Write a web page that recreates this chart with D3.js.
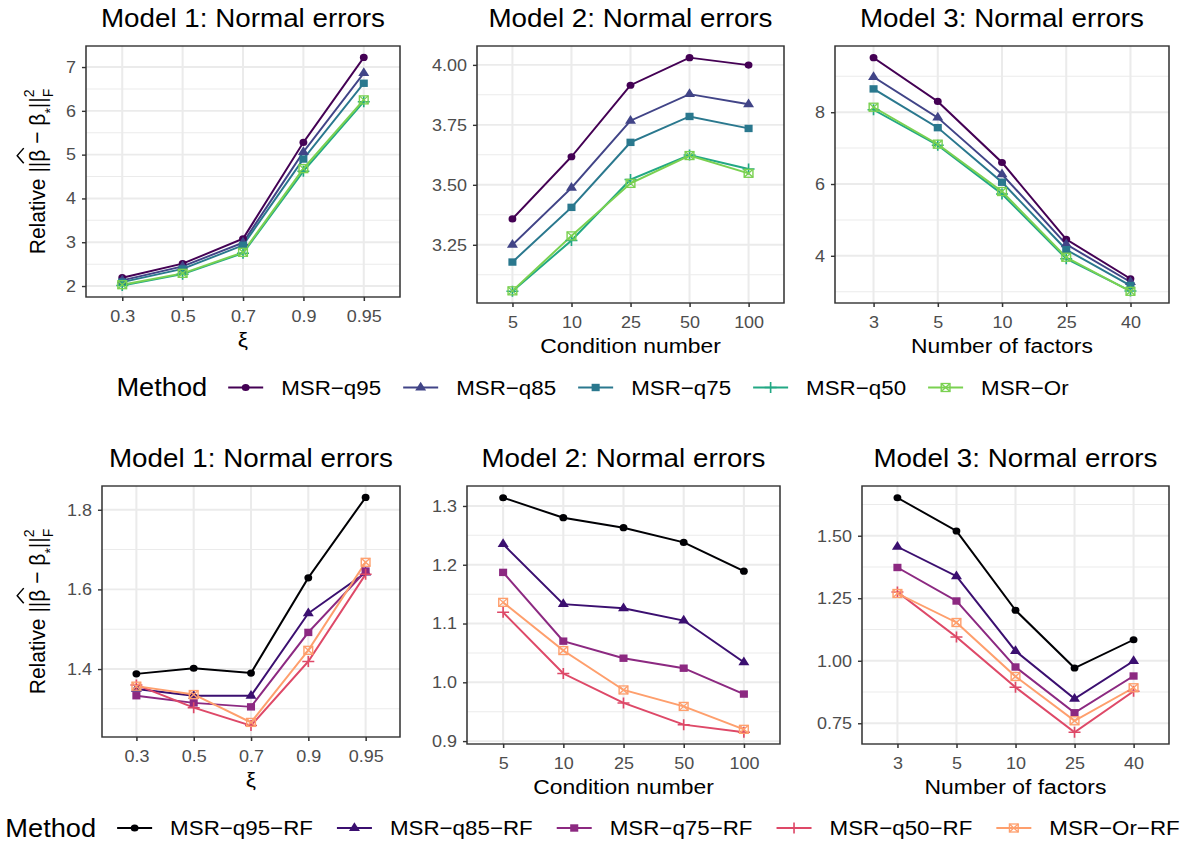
<!DOCTYPE html>
<html>
  <head>
    <meta charset="utf-8">
    <script src="https://d3js.org/d3.v7.min.js"></script>
    <title>Relative estimation error</title>
    <style>
      body { margin: 0; background: white; }
      text { font-family: "Liberation Sans", Arial, sans-serif; }
      .tick text { fill: #4d4d4d; }
    </style>
  </head>
  <body>
    <div id="chart"></div>
    <script>
      // categories on the x axes
      const xiLevels = ["0.3", "0.5", "0.7", "0.9", "0.95"];
      const condLevels = ["5", "10", "25", "50", "100"];
      const factorLevels = ["3", "5", "10", "25", "40"];

      const methodsTop = ["MSR\u2212q95", "MSR\u2212q85", "MSR\u2212q75", "MSR\u2212q50", "MSR\u2212Or"];
      const methodsBottom = ["MSR\u2212q95\u2212RF", "MSR\u2212q85\u2212RF", "MSR\u2212q75\u2212RF", "MSR\u2212q50\u2212RF", "MSR\u2212Or\u2212RF"];
      const coloursTop = ["#440154", "#414487", "#2A788E", "#22A884", "#7AD151"];
      const coloursBottom = ["#000004", "#3B0F70", "#8C2981", "#DE4968", "#FE9F6D"];
      const shapes = ["circle", "triangle", "square", "plus", "squarecross"];

      // rows: q95, q85, q75, q50, Or
      const top1 = [
        [2.19, 2.51, 3.08, 5.28, 7.22],
        [2.13, 2.45, 2.99, 5.06, 6.86],
        [2.09, 2.39, 2.93, 4.90, 6.63],
        [2.01, 2.27, 2.75, 4.62, 6.21],
        [2.03, 2.29, 2.77, 4.68, 6.25]
      ];
      const top2 = [
        [3.358, 3.617, 3.915, 4.030, 3.999],
        [3.250, 3.487, 3.767, 3.878, 3.836],
        [3.178, 3.406, 3.677, 3.785, 3.735],
        [3.056, 3.268, 3.522, 3.624, 3.566],
        [3.058, 3.287, 3.506, 3.622, 3.548]
      ];
      const top3 = [
        [9.52, 8.30, 6.60, 4.46, 3.36],
        [8.98, 7.85, 6.27, 4.32, 3.27],
        [8.65, 7.57, 6.05, 4.17, 3.17],
        [8.07, 7.08, 5.72, 3.92, 3.02],
        [8.14, 7.11, 5.79, 3.96, 3.01]
      ];
      const bot1 = [
        [1.388, 1.402, 1.390, 1.629, 1.831],
        [1.350, 1.333, 1.333, 1.540, 1.642],
        [1.333, 1.315, 1.305, 1.492, 1.646],
        [1.360, 1.303, 1.258, 1.419, 1.638],
        [1.357, 1.336, 1.266, 1.447, 1.668]
      ];
      const bot2 = [
        [1.314, 1.280, 1.263, 1.238, 1.189],
        [1.235, 1.133, 1.126, 1.105, 1.034],
        [1.187, 1.070, 1.041, 1.024, 0.980],
        [1.119, 1.015, 0.965, 0.928, 0.915],
        [1.136, 1.054, 0.987, 0.959, 0.920]
      ];
      const bot3 = [
        [1.652, 1.519, 1.202, 0.971, 1.084],
        [1.456, 1.338, 1.039, 0.848, 0.999],
        [1.373, 1.239, 0.975, 0.792, 0.939],
        [1.275, 1.095, 0.894, 0.714, 0.878],
        [1.269, 1.153, 0.937, 0.760, 0.892]
      ];

      // y tick values
      const ticksTop1 = [2, 3, 4, 5, 6, 7];
      const ticksTop2 = [3.25, 3.5, 3.75, 4.0];
      const ticksTop3 = [4, 6, 8];
      const ticksBot1 = [1.4, 1.6, 1.8];
      const ticksBot2 = [0.9, 1.0, 1.1, 1.2, 1.3];
      const ticksBot3 = [0.75, 1.0, 1.25, 1.5];

      const SX = 1.09; // the picture is a little wider than tall
      const X = v => v / SX;

      const svg = d3.select("#chart").append("svg")
        .attr("width", 1185).attr("height", 844);
      svg.append("rect").attr("width", 1185).attr("height", 844).attr("fill", "white");
      const root = svg.append("g").attr("transform", `scale(${SX},1)`);

      const panels = [
        { x0: 86, x1: 400, y0: 46, y1: 297, cats: xiLevels, data: top1, ticks: ticksTop1, fmt: "d", xt: "\u03be", yt: true, cols: coloursTop },
        { x0: 477, x1: 784, y0: 46, y1: 303, cats: condLevels, data: top2, ticks: ticksTop2, fmt: ".2f", xt: "Condition number", cols: coloursTop },
        { x0: 835, x1: 1169, y0: 46, y1: 303, cats: factorLevels, data: top3, ticks: ticksTop3, fmt: "d", xt: "Number of factors", cols: coloursTop },
        { x0: 102, x1: 400, y0: 486, y1: 737, cats: xiLevels, data: bot1, ticks: ticksBot1, fmt: ".1f", xt: "\u03be", yt: true, cols: coloursBottom },
        { x0: 467, x1: 780, y0: 486, y1: 744, cats: condLevels, data: bot2, ticks: ticksBot2, fmt: ".1f", xt: "Condition number", cols: coloursBottom },
        { x0: 862, x1: 1169, y0: 486, y1: 744, cats: factorLevels, data: bot3, ticks: ticksBot3, fmt: ".2f", xt: "Number of factors", cols: coloursBottom }
      ];
      const titles = ["Model 1: Normal errors", "Model 2: Normal errors", "Model 3: Normal errors"];

      function marker(g, shape, col, cx, cy) {
        const m = g.append("g").attr("transform", `translate(${cx},${cy})`);
        if (shape === "circle") {
          m.append("circle").attr("r", 3.6).attr("fill", col);
        } else if (shape === "triangle") {
          m.append("path").attr("d", d3.symbol(d3.symbolTriangle, 44)()).attr("fill", col);
        } else if (shape === "square") {
          m.append("rect").attr("x", -3.7).attr("y", -3.7).attr("width", 7.4).attr("height", 7.4).attr("fill", col);
        } else if (shape === "plus") {
          m.append("path").attr("d", "M-5.5,0H5.5M0,-5.5V5.5").attr("stroke", col).attr("stroke-width", 1.5);
        } else {
          m.append("rect").attr("x", -4).attr("y", -4).attr("width", 8).attr("height", 8)
            .attr("fill", "none").attr("stroke", col).attr("stroke-width", 1.3);
          m.append("path").attr("d", "M-4,-4L4,4M-4,4L4,-4").attr("stroke", col).attr("stroke-width", 1.3);
        }
      }

      function yTitle(cx, cy) {
        const g = root.append("g").attr("transform", `translate(${X(cx)},${cy}) rotate(-90)`);
        const inner = g.append("g");
        let x = 0;
        const put = (s, fs, dy) => {
          const el = inner.append("text").attr("x", x).attr("y", dy).attr("font-size", fs).text(s);
          return el.node().getComputedTextLength();
        };
        x += put("Relative ||", 21, 0);
        const bx = x;
        const bw = put("\u03b2", 21, 0);
        inner.append("path")
          .attr("d", `M${bx - 1.5},${-19.5}L${bx + bw / 2},${-25.5}L${bx + bw + 1.5},${-19.5}`)
          .attr("fill", "none").attr("stroke", "black").attr("stroke-width", 1.4);
        x += bw;
        x += put("\u00a0\u2212\u00a0\u03b2", 21, 0);
        x += put("*", 14, 9);
        x += put("||", 21, 0);
        const w2 = put("2", 14, -10);
        const wF = put("F", 14, 7);
        x += Math.max(w2, wF);
        inner.attr("transform", `translate(${-x / 2},0)`);
      }

      panels.forEach((p, k) => {
        const g = root.append("g");
        const all = p.data.flat();
        const ext = d3.extent(all);
        const pad = (ext[1] - ext[0]) * 0.05;
        const y = d3.scaleLinear().domain([ext[0] - pad, ext[1] + pad]).range([p.y1, p.y0]);
        const x = d3.scalePoint().domain(p.cats).range([X(p.x0), X(p.x1)]).padding(0.6);

        // minor gridlines halfway between the majors
        const step = p.ticks[1] - p.ticks[0];
        const minors = [p.ticks[0] - step / 2].concat(p.ticks.map(t => t + step / 2))
          .filter(v => v > y.domain()[0] && v < y.domain()[1]);
        g.selectAll(".minor").data(minors).join("line")
          .attr("x1", X(p.x0)).attr("x2", X(p.x1))
          .attr("y1", d => y(d)).attr("y2", d => y(d))
          .attr("stroke", "#ebebeb").attr("stroke-width", 1);
        g.selectAll(".majory").data(p.ticks).join("line")
          .attr("x1", X(p.x0)).attr("x2", X(p.x1))
          .attr("y1", d => y(d)).attr("y2", d => y(d))
          .attr("stroke", "#ebebeb").attr("stroke-width", 1.9);
        g.selectAll(".majorx").data(p.cats).join("line")
          .attr("x1", d => x(d)).attr("x2", d => x(d))
          .attr("y1", p.y0).attr("y2", p.y1)
          .attr("stroke", "#ebebeb").attr("stroke-width", 1.9);

        const line = d3.line().x((d, i) => x(p.cats[i])).y(d => y(d));
        p.data.forEach((s, j) => {
          g.append("path").attr("d", line(s)).attr("fill", "none")
            .attr("stroke", p.cols[j]).attr("stroke-width", 1.9);
        });
        p.data.forEach((s, j) => {
          s.forEach((v, i) => marker(g, shapes[j], p.cols[j], x(p.cats[i]), y(v)));
        });

        g.append("rect").attr("x", X(p.x0)).attr("y", p.y0)
          .attr("width", X(p.x1) - X(p.x0)).attr("height", p.y1 - p.y0)
          .attr("fill", "none").attr("stroke", "#333333").attr("stroke-width", 1.4);

        const ya = g.append("g").attr("transform", `translate(${X(p.x0)},0)`)
          .call(d3.axisLeft(y).tickValues(p.ticks).tickFormat(d3.format(p.fmt)).tickSize(3.7).tickPadding(5.5));
        const xa = g.append("g").attr("transform", `translate(0,${p.y1})`)
          .call(d3.axisBottom(x).tickSize(4).tickPadding(9));
        [ya, xa].forEach(a => {
          a.select(".domain").remove();
          a.selectAll(".tick line").attr("stroke", "#333333").attr("stroke-width", 1.4);
          a.selectAll(".tick text").attr("font-size", 16.5).attr("font-family", null);
        });
        xa.selectAll(".tick text").attr("dy", null).attr("y", 25);

        g.append("text").attr("x", (X(p.x0) + X(p.x1)) / 2).attr("y", p.y0 - 19)
          .attr("text-anchor", "middle").attr("font-size", 25.5).text(titles[k % 3]);
        g.append("text").attr("x", (X(p.x0) + X(p.x1)) / 2).attr("y", p.y1 + 50)
          .attr("text-anchor", "middle").attr("font-size", 21).text(p.xt);
        if (p.yt) yTitle(45, (p.y0 + p.y1) / 2);
      });

      function legend(labels, cols, cy, gap) {
        const g = root.append("g");
        let x = 0;
        const title = g.append("text").attr("x", 0).attr("y", cy + 9).attr("font-size", 25).text("Method");
        x += title.node().getComputedTextLength() + X(21);
        labels.forEach((lab, j) => {
          g.append("line").attr("x1", x).attr("x2", x + X(35)).attr("y1", cy).attr("y2", cy)
            .attr("stroke", cols[j]).attr("stroke-width", 1.9);
          marker(g, shapes[j], cols[j], x + X(17.5), cy);
          x += X(35) + X(18);
          const t = g.append("text").attr("x", x).attr("y", cy + 7.4).attr("font-size", 20.5).text(lab);
          x += t.node().getComputedTextLength();
          if (j < labels.length - 1) x += X(gap);
        });
        g.attr("transform", `translate(${X(592.5) - x / 2},0)`);
      }
      legend(methodsTop, coloursTop, 387.5, 22);
      legend(methodsBottom, coloursBottom, 828, 24);
    </script>
  </body>
</html>
